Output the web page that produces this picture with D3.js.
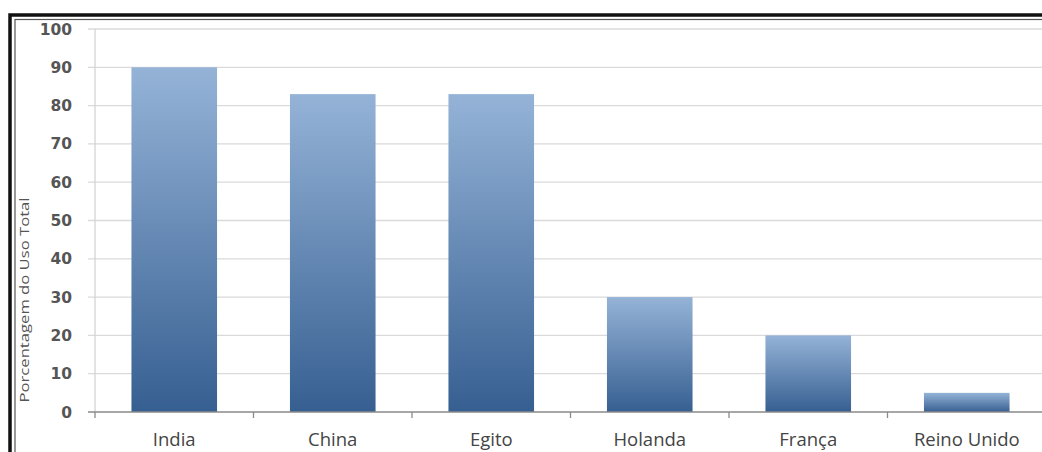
<!DOCTYPE html>
<html>
<head>
<meta charset="utf-8">
<script src="https://cdn.jsdelivr.net/npm/d3@7"></script>
<style>
  html, body { margin: 0; padding: 0; background: #fff; }
  svg { display: block; }
</style>
</head>
<body>
<svg id="chart" width="1042" height="452"></svg>
<script>
const categories = ["India", "China", "Egito", "Holanda", "França", "Reino Unido"];
const values = [90, 83, 83, 30, 20, 5];
const yTicks = [0, 10, 20, 30, 40, 50, 60, 70, 80, 90, 100];
const yTitle = "Porcentagem do Uso Total";

const svg = d3.select("#chart");
const plot = { left: 95, right: 1046, top: 29, bottom: 412 };

// frame
svg.append("rect").attr("x", 10).attr("y", 15).attr("width", 1100).attr("height", 500)
  .attr("fill", "#fff").attr("stroke", "#111").attr("stroke-width", 3.5);
svg.append("rect").attr("x", 15).attr("y", 19.5).attr("width", 1100).attr("height", 500)
  .attr("fill", "none").attr("stroke", "#555").attr("stroke-width", 1.2);

const defs = svg.append("defs");
const grad = defs.append("linearGradient").attr("id", "barGrad")
  .attr("x1", 0).attr("y1", 0).attr("x2", 0).attr("y2", 1);
grad.append("stop").attr("offset", "0%").attr("stop-color", "#95b3d7");
grad.append("stop").attr("offset", "100%").attr("stop-color", "#365f91");

const x = d3.scaleBand().domain(categories).range([plot.left, plot.right])
  .paddingInner(0.46).paddingOuter(0.23);
const y = d3.scaleLinear().domain([0, 100]).range([plot.bottom, plot.top]);

// gridlines
svg.append("g")
  .selectAll("line").data(yTicks.filter(d => d > 0)).join("line")
  .attr("x1", plot.left - 7).attr("x2", plot.right)
  .attr("y1", d => y(d)).attr("y2", d => y(d))
  .attr("stroke", "#dadada").attr("stroke-width", 1.3);

// y axis line
svg.append("line").attr("x1", plot.left).attr("x2", plot.left)
  .attr("y1", plot.top).attr("y2", plot.bottom)
  .attr("stroke", "#d4d4d4").attr("stroke-width", 1.3);

// bars
svg.append("g").selectAll("rect").data(values).join("rect")
  .attr("x", (d, i) => x(categories[i]))
  .attr("width", x.bandwidth())
  .attr("y", d => y(d))
  .attr("height", d => y(0) - y(d))
  .attr("fill", "url(#barGrad)");

// x axis
const xAxisG = svg.append("g");
xAxisG.append("line").attr("x1", plot.left - 7).attr("x2", plot.right)
  .attr("y1", plot.bottom).attr("y2", plot.bottom)
  .attr("stroke", "#8a8a8a").attr("stroke-width", 1.3);
const edges = d3.range(categories.length + 1).map(i => plot.left + i * x.step());
xAxisG.selectAll("line.tick").data(edges).join("line").attr("class", "tick")
  .attr("x1", d => d).attr("x2", d => d)
  .attr("y1", plot.bottom).attr("y2", plot.bottom + 6)
  .attr("stroke", "#8a8a8a").attr("stroke-width", 1.3);
xAxisG.selectAll("text").data(categories).join("text")
  .attr("x", d => x(d) + x.bandwidth() / 2)
  .attr("y", 446)
  .attr("text-anchor", "middle")
  .attr("font-family", "'Open Sans', sans-serif")
  .attr("font-size", 18.5)
  .attr("fill", "#444")
  .text(d => d);

// y tick labels
svg.append("g").selectAll("text").data(yTicks).join("text")
  .attr("x", 72).attr("y", d => y(d))
  .attr("dy", "0.36em")
  .attr("text-anchor", "end")
  .attr("font-family", "'DejaVu Sans', sans-serif")
  .attr("font-weight", "bold")
  .attr("font-size", 15.5)
  .attr("fill", "#555")
  .text(d => d);

// y title
svg.append("text")
  .attr("transform", "translate(29,300) rotate(-90)")
  .attr("text-anchor", "middle")
  .attr("font-family", "'Open Sans', sans-serif")
  .attr("font-size", 12.5)
  .attr("fill", "#555")
  .attr("textLength", 205)
  .attr("lengthAdjust", "spacingAndGlyphs")
  .text(yTitle);
</script>
</body>
</html>
